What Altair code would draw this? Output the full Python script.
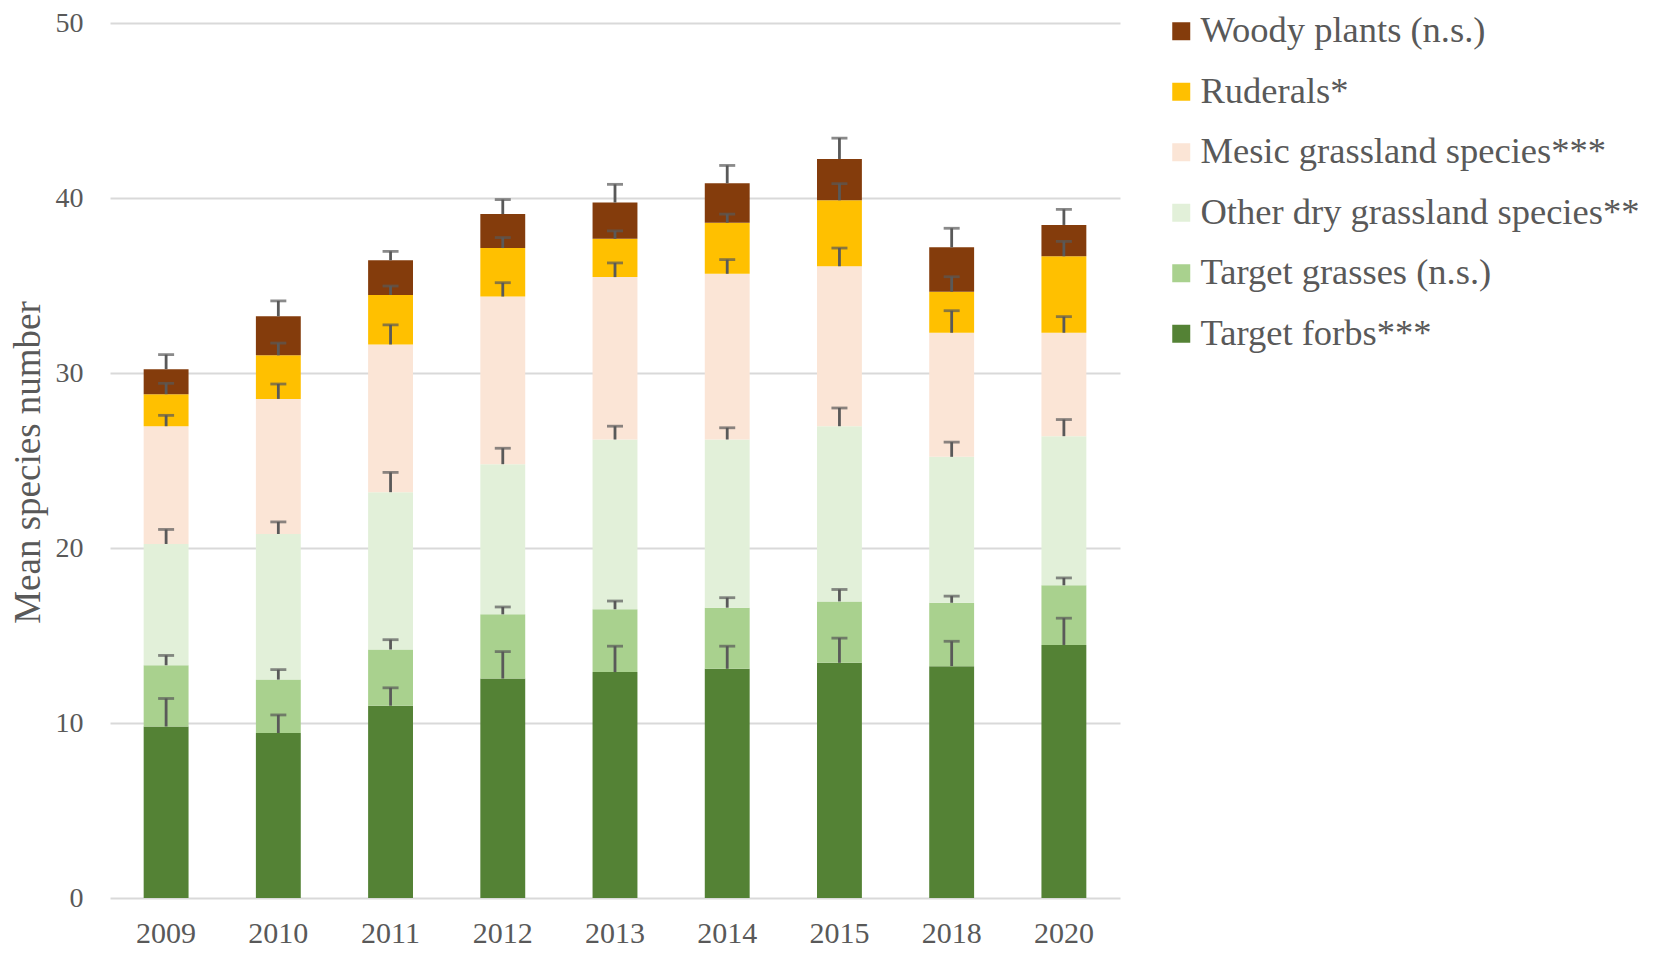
import altair as alt
import pandas as pd

years = ["2009", "2010", "2011", "2012", "2013", "2014", "2015", "2018", "2020"]

# stack order from bottom to top
groups = [
    "Target forbs***",
    "Target grasses (n.s.)",
    "Other dry grassland species**",
    "Mesic grassland species***",
    "Ruderals*",
    "Woody plants (n.s.)",
]
colors = ["#548235", "#A9D18E", "#E2F0D9", "#FBE5D6", "#FFC000", "#843C0C"]

forbs = [9.80, 9.43, 10.99, 12.54, 12.91, 13.10, 13.44, 13.25, 14.46]
forbs_se = [1.60, 1.03, 1.02, 1.54, 1.48, 1.29, 1.41, 1.42, 1.53]
grasses = [3.50, 3.05, 3.21, 3.67, 3.59, 3.49, 3.51, 3.62, 3.41]
grasses_se = [0.56, 0.57, 0.56, 0.42, 0.47, 0.57, 0.68, 0.38, 0.42]
other_dry = [6.93, 8.32, 8.99, 8.58, 9.70, 9.61, 10.01, 8.34, 8.52]
other_dry_se = [0.83, 0.69, 1.13, 0.91, 0.76, 0.67, 1.04, 0.84, 0.95]
mesic = [6.73, 7.72, 8.44, 9.58, 9.28, 9.47, 9.14, 7.09, 5.91]
mesic_se = [0.62, 0.85, 1.12, 0.79, 0.81, 0.81, 1.04, 1.26, 0.92]
ruderals = [1.83, 2.49, 2.83, 2.77, 2.19, 2.92, 3.77, 2.35, 4.37]
ruderals_se = [0.62, 0.70, 0.51, 0.60, 0.45, 0.49, 0.95, 0.85, 0.85]
woody = [1.43, 2.23, 1.98, 1.94, 2.07, 2.25, 2.36, 2.53, 1.79]
woody_se = [0.83, 0.88, 0.51, 0.83, 1.04, 1.02, 1.19, 1.09, 0.89]

values = [forbs, grasses, other_dry, mesic, ruderals, woody]
ses = [forbs_se, grasses_se, other_dry_se, mesic_se, ruderals_se, woody_se]

rows = []
for k, (g, vals, ss) in enumerate(zip(groups, values, ses)):
    for y, v, s in zip(years, vals, ss):
        rows.append({"year": y, "group": g, "k": k, "value": v, "se": s})
df = pd.DataFrame(rows)

FONT = "Liberation Serif"
TXT = "#595959"

legend_order = groups[::-1]
legend_colors = colors[::-1]

x_enc = alt.X(
    "year:N",
    sort=years,
    scale=alt.Scale(paddingInner=0.6, paddingOuter=0.3),
    axis=alt.Axis(
        title=None, labelAngle=0, labelFont=FONT, labelFontSize=30,
        labelColor=TXT, ticks=False, tickSize=0, domain=False, grid=False,
        labelPadding=44, labelBaseline="alphabetic",
    ),
)

y_axis = alt.Axis(
    title="Mean species number", titleFont=FONT, titleFontSize=37,
    titleFontWeight="normal", titleColor=TXT, titleX=-82, titleY=439,
    titleAngle=270, titleAlign="center", titleBaseline="middle",
    labelFont=FONT, labelFontSize=28, labelColor=TXT, values=[0, 10, 20, 30, 40, 50],
    ticks=False, tickSize=0, domain=False, grid=True, gridColor="#d9d9d9",
    gridWidth=2.2, labelPadding=27,
)
y_scale = alt.Scale(domain=[0, 50], nice=False)

base = alt.Chart(df).transform_stack(
    stack="value", groupby=["year"], as_=["y0", "y1"],
    sort=[alt.SortField("k", order="ascending")],
).transform_calculate(top="datum.y1 + datum.se")

bars = base.mark_bar().encode(
    x=x_enc,
    y=alt.Y("y0:Q", scale=y_scale, axis=y_axis),
    y2="y1:Q",
    color=alt.Color(
        "group:N",
        scale=alt.Scale(domain=legend_order, range=legend_colors),
        legend=alt.Legend(
            title=None, orient="none", legendX=1053, legendY=-10,
            symbolType="square", symbolSize=324, symbolStrokeWidth=0,
            symbolOpacity=1, labelFont=FONT, labelFontSize=36.5,
            labelColor=TXT, rowPadding=23.5, labelOffset=1, padding=0,
            labelLimit=600,
        ),
    ),
)

rules = base.mark_rule(color="#595959", strokeWidth=2.8).encode(
    x=x_enc,
    y=alt.Y("y1:Q", scale=y_scale, axis=y_axis),
    y2="top:Q",
)

caps = base.mark_tick(color="#595959", thickness=2.8, size=16).encode(
    x=x_enc,
    y=alt.Y("top:Q", scale=y_scale, axis=y_axis),
)

chart = alt.layer(bars, rules, caps).properties(
    width=1010,
    height=875,
    padding={"left": 102, "top": 15, "right": 526, "bottom": 51},
    autosize=alt.AutoSizeParams(type="none"),
    background="white",
).configure_view(stroke=None)

chart.save("out.html", embed_options={"renderer": "svg", "actions": False})
